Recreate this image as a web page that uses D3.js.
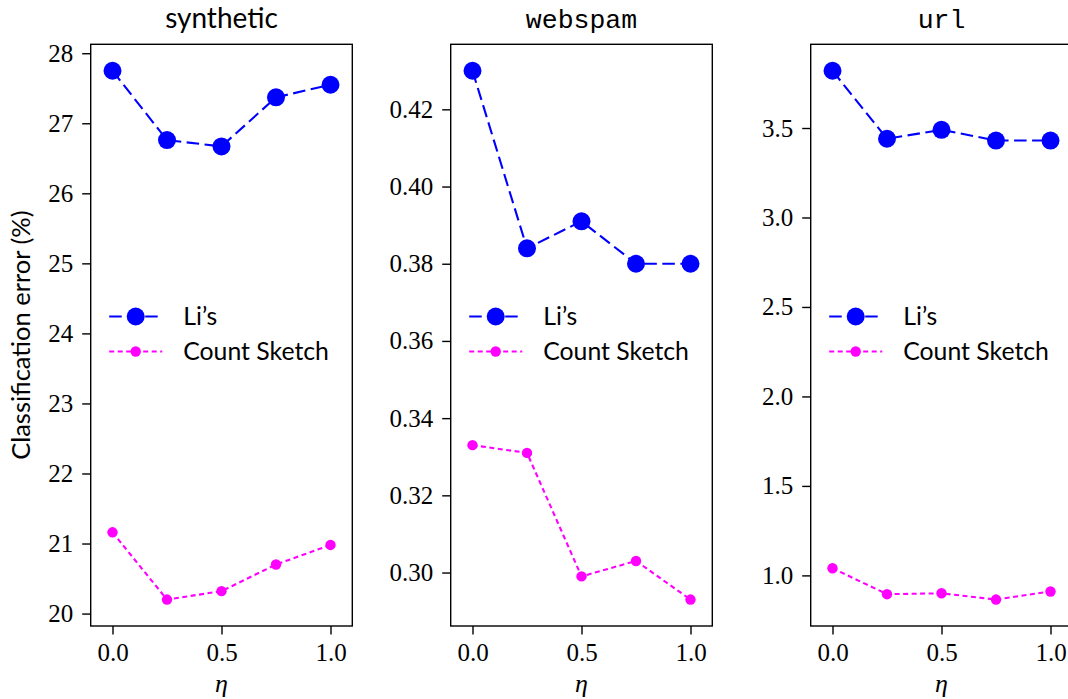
<!DOCTYPE html>
<html>
<head>
<meta charset="utf-8">
<script src="https://cdn.jsdelivr.net/npm/d3@7"></script>
<style>
  html, body { margin: 0; padding: 0; background: #fff; }
  svg { display: block; }
</style>
</head>
<body>
<svg id="chart" width="1068" height="699"></svg>
<script>
// eta values on the x axis
const eta = [0, 0.25, 0.5, 0.75, 1.0];
const xTicks = [0, 0.5, 1.0];

// dataset names (panel titles)
const datasets = ["synthetic", "webspam", "url"];

// classification error (%) per dataset
const lisSynthetic = [27.75, 26.76, 26.67, 27.37, 27.55];
const csSynthetic  = [21.16, 20.20, 20.32, 20.70, 20.98];
const lisWebspam   = [0.430, 0.384, 0.391, 0.380, 0.380];
const csWebspam    = [0.333, 0.331, 0.299, 0.303, 0.293];
const lisUrl       = [3.82, 3.44, 3.49, 3.43, 3.43];
const csUrl        = [1.04, 0.895, 0.90, 0.865, 0.91];

// y tick labels per panel
const yTicksSynthetic = [20, 21, 22, 23, 24, 25, 26, 27, 28];
const yTicksWebspam   = [0.30, 0.32, 0.34, 0.36, 0.38, 0.40, 0.42];
const yTicksUrl       = [1.0, 1.5, 2.0, 2.5, 3.0, 3.5];

const seriesNames = ["Li\u2019s", "Count Sketch"];

const panels = [
  { title: datasets[0], lis: lisSynthetic, cs: csSynthetic, ticks: yTicksSynthetic, fmt: d3.format("d") },
  { title: datasets[1], lis: lisWebspam,   cs: csWebspam,   ticks: yTicksWebspam,   fmt: d3.format(".2f") },
  { title: datasets[2], lis: lisUrl,       cs: csUrl,       ticks: yTicksUrl,       fmt: d3.format(".1f") }
];

const svg = d3.select("#chart");
const serif = "'Liberation Serif', 'DejaVu Serif', serif";
const sans = "Lato, 'Open Sans', 'DejaVu Sans', sans-serif";
const mono = "'Liberation Mono', 'DejaVu Sans Mono', monospace";

const plotLefts = [90.7, 450.7, 810.7];
const plotW = 261.6;
const plotTop = 44.3, plotBottom = 626;

const styles = [
  { color: "#0000ff", dash: "12.5,5.5", width: 2.1, r: 9 },
  { color: "#ff00ff", dash: "5,3.5",    width: 2.1, r: 5.2 }
];

panels.forEach((p, i) => {
  const left = plotLefts[i];
  const g = svg.append("g").attr("transform", `translate(${left},0)`);

  const x = d3.scaleLinear().domain([-0.1, 1.1]).range([0, plotW]);
  const all = p.lis.concat(p.cs);
  const lo = d3.min(all), hi = d3.max(all), pad = (hi - lo) * 0.05;
  const y = d3.scaleLinear().domain([lo - pad, hi + pad]).range([plotBottom, plotTop]);

  // axes
  const yAxis = d3.axisLeft(y).tickValues(p.ticks).tickFormat(p.fmt).tickSize(8.5).tickPadding(9);
  const xAxis = d3.axisBottom(x).tickValues(xTicks).tickFormat(d3.format(".1f")).tickSize(8.5).tickPadding(9);

  const ya = g.append("g").call(yAxis);
  const xa = g.append("g").attr("transform", `translate(0,${plotBottom})`).call(xAxis);
  [ya, xa].forEach(a => {
    a.attr("font-family", null).attr("font-size", null);
    a.select(".domain").remove();
    a.selectAll(".tick line").attr("stroke", "#000").attr("stroke-width", 1.4);
    a.selectAll(".tick text").attr("fill", "#000").style("font-family", serif).style("font-size", "25px");
  });

  // frame
  g.append("rect")
    .attr("x", 0).attr("y", plotTop)
    .attr("width", plotW).attr("height", plotBottom - plotTop)
    .attr("fill", "none").attr("stroke", "#000").attr("stroke-width", 1.4);

  // series
  [p.lis, p.cs].forEach((vals, k) => {
    const st = styles[k];
    const pts = eta.map((e, j) => [e, vals[j]]);
    g.append("path")
      .attr("d", d3.line().x(d => x(d[0])).y(d => y(d[1]))(pts))
      .attr("fill", "none").attr("stroke", st.color)
      .attr("stroke-width", st.width).attr("stroke-dasharray", st.dash);
    g.selectAll(null).data(pts).enter().append("circle")
      .attr("cx", d => x(d[0])).attr("cy", d => y(d[1]))
      .attr("r", st.r).attr("fill", st.color);
  });

  // legend
  seriesNames.forEach((name, k) => {
    const st = styles[k];
    const ly = 316.5 + k * 35;
    const lg = g.append("g");
    lg.append("line").attr("x1", 18.5).attr("x2", 71.5).attr("y1", ly).attr("y2", ly)
      .attr("stroke", st.color).attr("stroke-width", st.width).attr("stroke-dasharray", st.dash);
    lg.append("circle").attr("cx", 45).attr("cy", ly).attr("r", st.r).attr("fill", st.color);
    lg.append("text").attr("x", 92.5).attr("y", ly + 8.5)
      .style("font-family", sans).style("font-size", "24.8px").attr("fill", "#000").text(name);
  });

  // title
  g.append("text").attr("x", plotW / 2).attr("y", 28).attr("text-anchor", "middle")
    .style("font-family", i === 0 ? sans : mono).style("font-size", i === 0 ? "28px" : "26.5px")
    .attr("fill", "#000").text(p.title);

  // x label
  g.append("text").attr("x", plotW / 2).attr("y", 692).attr("text-anchor", "middle")
    .style("font-family", serif).style("font-style", "italic").style("font-size", "26px")
    .attr("fill", "#000").text("\u03b7");
});

// shared y label
svg.append("text")
  .attr("transform", `translate(30,${(plotTop + plotBottom) / 2}) rotate(-90)`)
  .attr("text-anchor", "middle")
  .style("font-family", sans).style("font-size", "25.5px").attr("fill", "#000")
  .text("Classification error (%)");
</script>
</body>
</html>
